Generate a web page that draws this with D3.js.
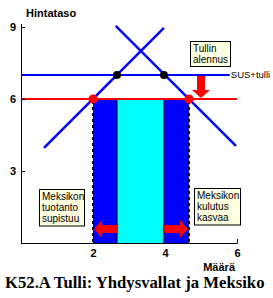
<!DOCTYPE html>
<meta charset="utf-8">
<style>
  html, body { margin: 0; padding: 0; background: #fff; }
  svg { display: block; }
  .axis text { font-family: "Liberation Sans", Arial, sans-serif; font-weight: bold; font-size: 11px; }
  .lbl { font-family: "Liberation Sans", Arial, sans-serif; font-size: 10px; }
</style>
<body>
</body>
<script src="https://cdn.jsdelivr.net/npm/d3@7"></script>
<script>

  var width = 273, height = 298;

  // data
  var yTicks = [3, 6, 9];
  var xTicks = [2, 4, 6];
  var supply = [[0.64, 3.96], [3.97, 8.96]];   // Q, P
  var demand = [[2.63, 9.05], [5.97, 4.05]];
  var tariffPrice = 7, worldPrice = 6;
  var qTariff = [2.667, 3.97];   // supply, demand with tariff
  var qFree = [2, 4.667];        // supply, demand after cut
  var boxes = [
      {q: 4.7, p: 8.4, w: 40, lines: ["Tullin", "alennus"]},
      {q: 0.5, p: 2.25, w: 45, lines: ["Meksikon", "tuotanto", "supistuu"]},
      {q: 4.8, p: 2.29, w: 46, lines: ["Meksikon", "kulutus", "kasvaa"]}
  ];

  var x = d3.scaleLinear().domain([0, 6]).range([21, 237]);
  var y = d3.scaleLinear().domain([0, 9]).range([243, 27]);

  var svg = d3.select("body").append("svg")
      .attr("width", width)
      .attr("height", height);

  /* areas */
  svg.append("rect")
      .attr("x", x(qFree[0])).attr("y", y(worldPrice))
      .attr("width", x(qFree[1]) - x(qFree[0]))
      .attr("height", y(0) - y(worldPrice))
      .attr("fill", "#0000ff");
  svg.append("rect")
      .attr("x", x(qTariff[0])).attr("y", y(worldPrice))
      .attr("width", x(qTariff[1]) - x(qTariff[0]))
      .attr("height", y(0) - y(worldPrice))
      .attr("fill", "#00ffff");

  qTariff.forEach(function(q) {
      svg.append("line")
	  .attr("x1", x(q)).attr("x2", x(q))
	  .attr("y1", y(worldPrice)).attr("y2", y(0))
	  .attr("stroke", "#000").attr("stroke-width", 1);
  });
  qFree.forEach(function(q) {
      svg.append("line")
	  .attr("x1", x(q)).attr("x2", x(q))
	  .attr("y1", y(worldPrice) + 2).attr("y2", y(0))
	  .attr("stroke", "#000").attr("stroke-width", 2)
	  .attr("stroke-dasharray", "3,3");
  });

  /* supply & demand */
  var line = d3.line().x(d => x(d[0])).y(d => y(d[1]));
  [supply, demand].forEach(function(s) {
      svg.append("path")
	  .attr("d", line(s))
	  .attr("fill", "none")
	  .attr("stroke", "#0000ff")
	  .attr("stroke-width", 2.5);
  });

  svg.append("line")
      .attr("x1", x(0)).attr("x2", x(5.8))
      .attr("y1", y(tariffPrice)).attr("y2", y(tariffPrice))
      .attr("stroke", "#0000ff").attr("stroke-width", 2);
  svg.append("text")
      .attr("class", "lbl")
      .attr("x", x(5.8) + 1).attr("y", y(tariffPrice))
      .attr("dy", "0.35em")
      .style("font-size", "9.5px")
      .text("SUS+tulli");

  svg.append("line")
      .attr("x1", x(0)).attr("x2", x(6))
      .attr("y1", y(worldPrice)).attr("y2", y(worldPrice))
      .attr("stroke", "#ff0000").attr("stroke-width", 2);

  /* equilibrium dots */
  qTariff.forEach(function(q) {
      svg.append("circle")
	  .attr("cx", x(q)).attr("cy", y(tariffPrice)).attr("r", 4)
	  .attr("fill", "#000");
  });
  qFree.forEach(function(q) {
      svg.append("circle")
	  .attr("cx", x(q)).attr("cy", y(worldPrice)).attr("r", 4.5)
	  .attr("fill", "#ff0000");
  });

  /* arrows */
  function arrow(x1, y1, x2, y2) {
      var len = Math.hypot(x2 - x1, y2 - y1);
      var a = Math.atan2(y2 - y1, x2 - x1) * 180 / Math.PI;
      var sw = 4, hw = 9, hl = 8;
      svg.append("path")
	  .attr("d", "M0," + (-sw) + "L" + (len - hl) + "," + (-sw) + "L" + (len - hl) + "," + (-hw) +
		"L" + len + ",0L" + (len - hl) + "," + hw + "L" + (len - hl) + "," + sw + "L0," + sw + "Z")
	  .attr("fill", "#ff0000")
	  .attr("transform", "translate(" + x1 + "," + y1 + ") rotate(" + a + ")");
  }
  arrow(x(5.0), y(tariffPrice) + 1, x(5.0), y(worldPrice) - 1);
  arrow(x(qTariff[0]) + 1, y(0.58), x(qFree[0]) + 1, y(0.58));
  arrow(x(qTariff[1]) - 1, y(0.58), x(qFree[1]) - 1, y(0.58));

  /* boxes */
  boxes.forEach(function(b) {
      var g = svg.append("g").attr("transform", "translate(" + Math.round(x(b.q)) + "," + Math.round(y(b.p)) + ")");
      g.append("rect")
	  .attr("x", 0.5).attr("y", 0.5)
	  .attr("width", b.w).attr("height", b.lines.length * 11.5 + 2)
	  .attr("fill", "#ffffe1").attr("stroke", "#000");
      b.lines.forEach(function(t, i) {
	  g.append("text").attr("class", "lbl")
	      .attr("x", 3).attr("y", 10.5 + i * 11.3)
	      .text(t);
      });
  });

  /* axes */
  svg.append("g")
      .attr("class", "axis")
      .attr("transform", "translate(" + x(0) + ",0)")
      .call(d3.axisLeft(y).tickValues(yTicks).tickFormat(d3.format("d")).tickSize(-4).tickSizeOuter(0).tickPadding(5))
      .call(g => g.select(".domain").remove())
      .call(g => g.selectAll("line").attr("stroke", "#000"));
  svg.append("g")
      .attr("class", "axis")
      .attr("transform", "translate(0," + y(0) + ")")
      .call(d3.axisBottom(x).tickValues(xTicks).tickFormat(d3.format("d")).tickSize(-4).tickSizeOuter(0).tickPadding(6))
      .call(g => g.select(".domain").remove())
      .call(g => g.selectAll("line").attr("stroke", "#000"));
  svg.append("line")
      .attr("x1", x(0) + 0.5).attr("x2", x(0) + 0.5)
      .attr("y1", y(9) - 3).attr("y2", y(0) + 0.5)
      .attr("stroke", "#000");
  svg.append("line")
      .attr("x1", x(0)).attr("x2", x(6) + 0.5)
      .attr("y1", y(0) + 0.5).attr("y2", y(0) + 0.5)
      .attr("stroke", "#000");

  svg.append("text")
      .attr("x", 26).attr("y", 17)
      .style("font-family", "'Liberation Sans', Arial, sans-serif")
      .style("font-weight", "bold").style("font-size", "11px")
      .text("Hintataso");
  svg.append("text")
      .attr("x", 235).attr("y", 271)
      .attr("text-anchor", "end")
      .style("font-family", "'Liberation Sans', Arial, sans-serif")
      .style("font-weight", "bold").style("font-size", "11px")
      .text("Määrä");

  svg.append("text")
      .attr("x", 5).attr("y", 288)
      .style("font-family", "'Liberation Serif', 'Times New Roman', serif")
      .style("font-weight", "bold").style("font-size", "16.7px")
      .text("K52.A Tulli: Yhdysvallat ja Meksiko");

</script>
